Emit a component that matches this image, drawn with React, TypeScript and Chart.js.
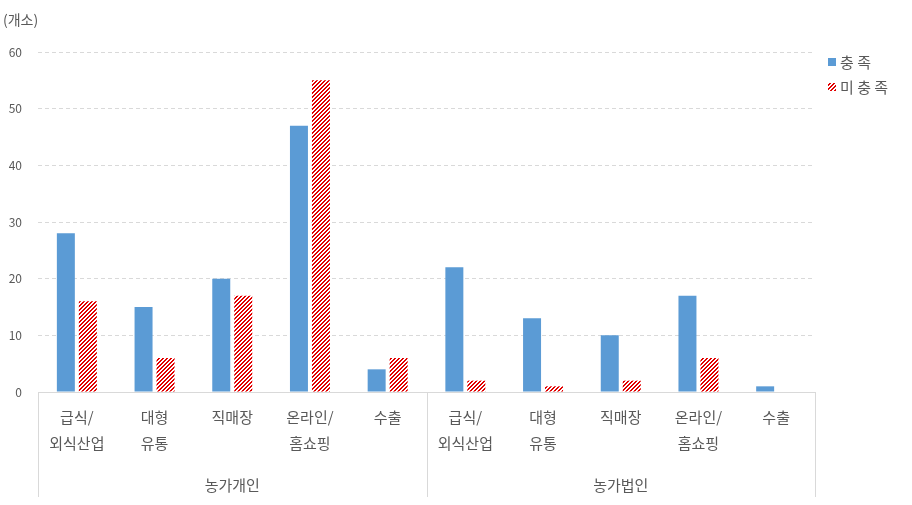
import React, { useEffect, useRef } from "react";
import Chart from "chart.js/auto";

const categories: string[][] = [
  ["급식/", "외식산업"], ["대형", "유통"], ["직매장"], ["온라인/", "홈쇼핑"], ["수출"],
  ["급식/", "외식산업"], ["대형", "유통"], ["직매장"], ["온라인/", "홈쇼핑"], ["수출"],
];
const groups: string[] = ["농가개인", "농가법인"];
const groupSize = 5;
const seriesNames: string[] = ["충 족", "미 충 족"];
const metValues: number[] = [28, 15, 20, 47, 4, 22, 13, 10, 17, 1];
const unmetValues: number[] = [16, 6, 17, 55, 6, 2, 1, 2, 6, 0];
const yTicks: number[] = [0, 10, 20, 30, 40, 50, 60];
const unitLabel = "(개소)";

const BLUE = "#5b9bd5";
const RED = "rgb(230,0,0)";
const TEXT = "#595959";
const FONT = "'Noto Sans CJK KR', 'Noto Sans', sans-serif";

function makeHatch(): CanvasPattern | string {
  const c = document.createElement("canvas");
  c.width = 4;
  c.height = 4;
  const ctx = c.getContext("2d");
  if (!ctx) return RED;
  const img = ctx.createImageData(4, 4);
  for (let y = 0; y < 4; y++) {
    for (let x = 0; x < 4; x++) {
      const i = (y * 4 + x) * 4;
      const on = (x + y) % 4 < 2;
      img.data[i] = on ? 225 : 255;
      img.data[i + 1] = on ? 0 : 255;
      img.data[i + 2] = on ? 0 : 255;
      img.data[i + 3] = 255;
    }
  }
  ctx.putImageData(img, 0, 0);
  return ctx.createPattern(c, "repeat") || RED;
}

export default function App() {
  const ref = useRef<HTMLCanvasElement | null>(null);
  useEffect(() => {
    if (!ref.current) return;
    const hatch = makeHatch();
    const overlay = {
      id: "overlay",
      afterDraw(chart: any) {
        const ctx = chart.ctx;
        const area = chart.chartArea;
        const xs = chart.scales.x;
        ctx.save();
        // unit label
        ctx.font = `14px ${FONT}`;
        ctx.fillStyle = TEXT;
        ctx.textAlign = "left";
        ctx.textBaseline = "middle";
        ctx.fillText(unitLabel, 3, 20);
        // group dividers and labels
        const n = categories.length;
        const step = (area.right - area.left) / n;
        ctx.strokeStyle = "#d9d9d9";
        ctx.lineWidth = 1;
        const bottom = 497;
        for (let g = 0; g <= groups.length; g++) {
          const x = Math.round(area.left + g * groupSize * step) + 0.5;
          ctx.beginPath();
          ctx.moveTo(x, area.bottom);
          ctx.lineTo(x, bottom);
          ctx.stroke();
        }
        ctx.font = `15px ${FONT}`;
        ctx.textAlign = "center";
        groups.forEach((g, i) => {
          const a = xs.getPixelForValue(i * groupSize);
          const b = xs.getPixelForValue(i * groupSize + groupSize - 1);
          ctx.fillText(g, (a + b) / 2, 485);
        });
        // legend
        const fills = [BLUE, hatch];
        ctx.textAlign = "left";
        seriesNames.forEach((name, i) => {
          const y = 62 + i * 25;
          ctx.fillStyle = fills[i] as any;
          ctx.fillRect(828, y - 4, 8, 8);
          ctx.fillStyle = TEXT;
          ctx.fillText(name, 840, y);
        });
        ctx.restore();
      },
    };
    const chart = new Chart(ref.current, {
      type: "bar",
      data: {
        labels: categories,
        datasets: [
          { label: seriesNames[0], data: metValues, backgroundColor: BLUE, categoryPercentage: 0.566, barPercentage: 0.818 },
          { label: seriesNames[1], data: unmetValues, backgroundColor: hatch as any, categoryPercentage: 0.566, barPercentage: 0.818 },
        ],
      },
      options: {
        animation: false,
        responsive: true,
        maintainAspectRatio: false,
        layout: { padding: { left: 0, top: 52, right: 97, bottom: 0 } },
        plugins: { legend: { display: false }, tooltip: { enabled: false } },
        scales: {
          x: {
            grid: { display: false, drawTicks: false },
            border: { display: true, color: "#d9d9d9", width: 1 },
            ticks: {
              color: TEXT,
              padding: 12,
              font: { family: FONT, size: 15, lineHeight: 1.73 },
              maxRotation: 0,
              autoSkip: false,
            },
            afterFit: (s: any) => { s.height = 113; },
          },
          y: {
            min: 0,
            max: 60,
            afterBuildTicks: (s: any) => { s.ticks = yTicks.map((v) => ({ value: v })); },
            grid: { color: "#d9d9d9", drawTicks: false },
            border: { display: false, dash: [4, 3] },
            ticks: { color: TEXT, padding: 16, font: { family: FONT, size: 12 } },
            afterFit: (s: any) => { s.width = 38; },
          },
        },
      },
      plugins: [overlay],
    });
    return () => chart.destroy();
  }, []);
  return (
    <div style={{ position: "fixed", left: 0, top: 0, width: 912, height: 505, background: "#fff" }}>
      <canvas ref={ref} />
    </div>
  );
}
